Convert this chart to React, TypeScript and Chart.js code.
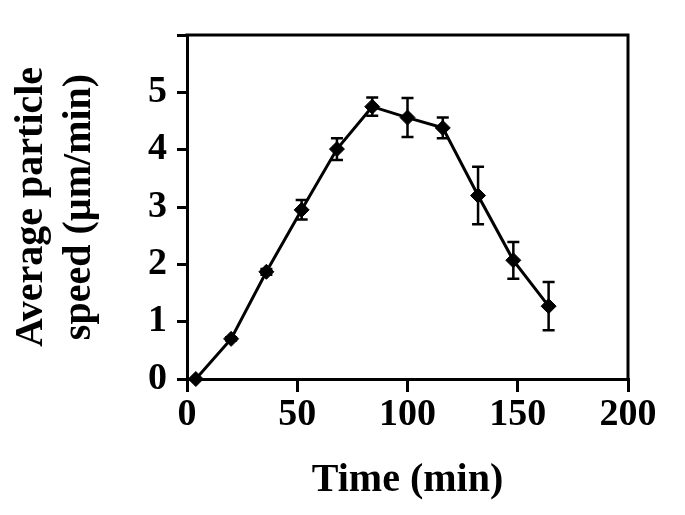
import React, { useEffect, useRef } from 'react';
import { Chart, registerables } from 'chart.js';

Chart.register(...registerables);

// ---- Data ----
const timeMin = [4, 20, 36, 52, 68, 84, 100, 116, 132, 148, 164];
const speed = [0, 0.7, 1.87, 2.95, 4.01, 4.75, 4.56, 4.38, 3.2, 2.07, 1.27];
const speedErr = [0, 0.03, 0.05, 0.17, 0.19, 0.16, 0.34, 0.18, 0.5, 0.32, 0.42];
const xMin = 0;
const xMax = 200;
const xStep = 50;
const yMin = 0;
const yMax = 6;
const yStep = 1;
const yLabelledMax = 5;
const xTitle = 'Time (min)';
const yTitle = ['Average particle', 'speed (µm/min)'];

const FONT = '"Liberation Serif", "Times New Roman", serif';

const errorBarPlugin = {
  id: 'errorBars',
  afterDatasetsDraw(chart: any) {
    const { ctx, scales } = chart;
    const xs = scales.x;
    const ys = scales.y;
    ctx.save();
    ctx.strokeStyle = '#000';
    ctx.lineWidth = 2.5;
    const cap = 6;
    for (let i = 0; i < timeMin.length; i++) {
      const e = speedErr[i];
      if (!e) continue;
      const px = xs.getPixelForValue(timeMin[i]);
      const top = ys.getPixelForValue(speed[i] + e);
      const bot = ys.getPixelForValue(speed[i] - e);
      ctx.beginPath();
      ctx.moveTo(px, top);
      ctx.lineTo(px, bot);
      ctx.moveTo(px - cap, top);
      ctx.lineTo(px + cap, top);
      ctx.moveTo(px - cap, bot);
      ctx.lineTo(px + cap, bot);
      ctx.stroke();
    }
    ctx.restore();
  },
};

const frameBorderPlugin = {
  id: 'frameBorder',
  afterDraw(chart: any) {
    const { ctx, chartArea } = chart;
    ctx.save();
    ctx.strokeStyle = '#000';
    ctx.lineWidth = 3;
    ctx.lineCap = 'square';
    ctx.beginPath();
    ctx.moveTo(chartArea.left, chartArea.top);
    ctx.lineTo(chartArea.right, chartArea.top);
    ctx.lineTo(chartArea.right, chartArea.bottom);
    ctx.stroke();
    ctx.restore();
  },
};

export default function App() {
  const canvasRef = useRef<HTMLCanvasElement | null>(null);

  useEffect(() => {
    if (!canvasRef.current) return;
    const chart = new Chart(canvasRef.current, {
      type: 'scatter',
      data: {
        datasets: [
          {
            data: timeMin.map((t, i) => ({ x: t, y: speed[i] })),
            showLine: true,
            borderColor: '#000',
            backgroundColor: '#000',
            borderWidth: 3,
            pointStyle: 'rectRot',
            pointRadius: 7.5,
            pointBorderWidth: 1,
            tension: 0,
            clip: false,
          } as any,
        ],
      },
      options: {
        responsive: false,
        animation: false,
        layout: { padding: { left: 0, top: 35, right: 57, bottom: 0 } },
        plugins: {
          legend: { display: false },
          tooltip: { enabled: false },
        },
        scales: {
          x: {
            type: 'linear',
            min: xMin,
            max: xMax,
            afterFit: (scale: any) => {
              scale.height = 136;
            },
            ticks: {
              stepSize: xStep,
              color: '#000',
              padding: 0,
              maxRotation: 0,
              autoSkip: false,
              font: { family: FONT, size: 38, weight: 'bold' },
            },
            grid: {
              drawOnChartArea: false,
              drawTicks: true,
              tickLength: 13,
              lineWidth: 3,
              color: '#000',
            },
            border: { display: true, color: '#000', width: 3 },
            title: {
              display: true,
              text: xTitle,
              color: '#000',
              font: { family: FONT, size: 40, weight: 'bold', lineHeight: 1.25 },
              padding: { top: 0, bottom: 9 },
            },
          },
          y: {
            type: 'linear',
            min: yMin,
            max: yMax,
            afterFit: (scale: any) => {
              scale.width = 187;
            },
            ticks: {
              stepSize: yStep,
              color: '#000',
              padding: 10,
              autoSkip: false,
              font: { family: FONT, size: 38, weight: 'bold' },
              callback: (v: any) => (Number(v) > yLabelledMax ? '' : String(v)),
            },
            grid: {
              drawOnChartArea: false,
              drawTicks: true,
              tickLength: 10,
              lineWidth: 3,
              color: '#000',
            },
            border: { display: true, color: '#000', width: 3 },
            title: {
              display: true,
              text: yTitle,
              color: '#000',
              font: { family: FONT, size: 40, weight: 'bold', lineHeight: 1.2 },
              padding: { top: 8, bottom: 0 },
            },
          },
        },
      },
      plugins: [errorBarPlugin, frameBorderPlugin],
    });
    return () => chart.destroy();
  }, []);

  return (
    <div style={{ position: 'absolute', left: 0, top: 0, width: 685, height: 515, background: '#fff' }}>
      <canvas ref={canvasRef} width={685} height={515} />
    </div>
  );
}
